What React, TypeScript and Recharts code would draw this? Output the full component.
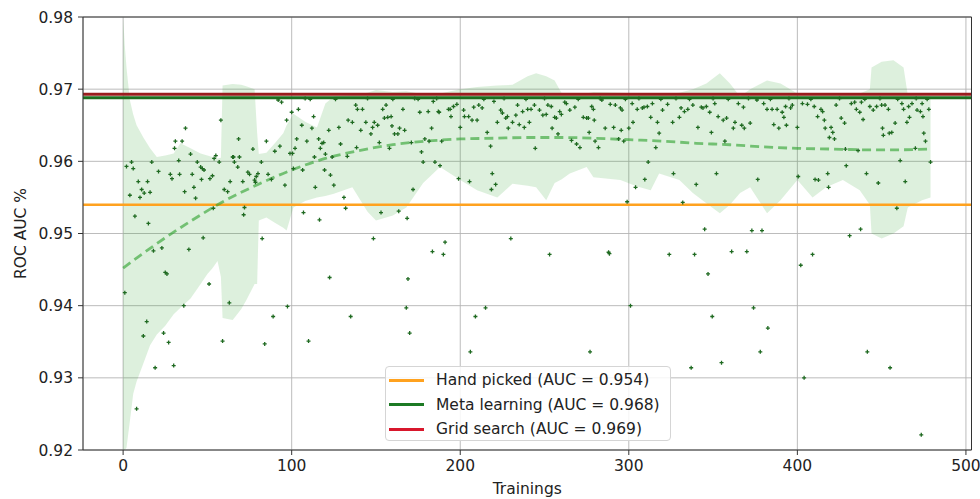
import {
  Area,
  CartesianGrid,
  ComposedChart,
  Line,
  ReferenceLine,
  Scatter,
  XAxis,
  YAxis,
} from 'recharts'

const xTicks = [0, 100, 200, 300, 400, 500]
const yTicks = [0.92, 0.93, 0.94, 0.95, 0.96, 0.97, 0.98]

// baselines: hand picked, meta learning, grid search
const baselineNames = ['Hand picked (AUC = 0.954)', 'Meta learning (AUC = 0.968)', 'Grid search (AUC = 0.969)']
const baselineLevels = [0.954, 0.9688, 0.9693]
const baselineColors = ['#ffa21f', '#1c7a24', '#d8172c']

// dashed trend of the meta learning runs
const trendX = [0, 20, 40, 60, 80, 100, 120, 140, 160, 180, 200, 220, 240, 260, 280, 300, 320, 340, 360, 380, 400, 420, 440, 460, 479]
const trendY = [0.9452, 0.9486, 0.9517, 0.9545, 0.9568, 0.9588, 0.9604, 0.9615, 0.9623, 0.9628, 0.9631, 0.9632, 0.9633, 0.9633, 0.9632, 0.963, 0.9628, 0.9625, 0.9623, 0.962, 0.9618, 0.9617, 0.9616, 0.9616, 0.9617]

// shaded spread around the runs
const bandX = [0, 1, 2, 4, 6, 8, 12, 16, 20, 25, 30, 34, 40, 46, 50, 53, 56, 58, 59, 65, 70, 73, 78, 79.5, 80.5, 85, 90, 95, 97, 101, 108, 115, 120, 125, 136, 145, 150, 160, 168, 178, 188, 200, 210, 222, 231, 240, 245, 251, 256, 260, 265, 275, 279, 295, 305, 313, 318, 330, 338, 346, 354, 360, 366, 372, 382, 390, 400, 409, 417, 427, 437, 443, 444, 450, 457, 463, 465.5, 474, 479]
const bandLow = [0.92, 0.92, 0.9203, 0.924, 0.9278, 0.9295, 0.932, 0.9345, 0.936, 0.9372, 0.9388, 0.9397, 0.941, 0.943, 0.9444, 0.9452, 0.9462, 0.944, 0.9383, 0.938, 0.9395, 0.9407, 0.943, 0.943, 0.9518, 0.9522, 0.9515, 0.9508, 0.9504, 0.9536, 0.9545, 0.955, 0.9552, 0.9555, 0.9564, 0.953, 0.9518, 0.9525, 0.9536, 0.957, 0.9592, 0.9574, 0.956, 0.955, 0.9569, 0.9566, 0.9564, 0.9546, 0.957, 0.9575, 0.9583, 0.9592, 0.9578, 0.9574, 0.9565, 0.956, 0.9583, 0.9574, 0.9556, 0.9542, 0.9528, 0.954, 0.9556, 0.9564, 0.9528, 0.9546, 0.9574, 0.955, 0.9564, 0.9574, 0.956, 0.954, 0.95, 0.9493, 0.95, 0.951, 0.9536, 0.9546, 0.955]
const bandHigh = [0.98, 0.976, 0.973, 0.9685, 0.9665, 0.965, 0.9633, 0.9618, 0.9606, 0.9608, 0.9611, 0.9625, 0.9618, 0.9611, 0.9608, 0.9606, 0.9604, 0.9605, 0.9705, 0.9707, 0.9706, 0.9704, 0.97, 0.964, 0.961, 0.9612, 0.9625, 0.9639, 0.965, 0.9666, 0.9655, 0.9647, 0.968, 0.969, 0.9692, 0.9695, 0.9699, 0.9696, 0.9697, 0.9693, 0.9694, 0.97, 0.9703, 0.9705, 0.9706, 0.9718, 0.9722, 0.9718, 0.9712, 0.9695, 0.9693, 0.9694, 0.9696, 0.9695, 0.9694, 0.9692, 0.9693, 0.9695, 0.97, 0.9708, 0.9722, 0.9708, 0.969, 0.97, 0.9712, 0.9708, 0.9694, 0.9693, 0.9692, 0.9693, 0.9694, 0.97, 0.973, 0.9738, 0.974, 0.973, 0.9692, 0.9691, 0.969]

// individual trainings: [training, ROC AUC]
const trainingRuns: [number, number][] = [
  [1, 0.9418], [2, 0.9593], [4, 0.9553], [5, 0.9599], [6, 0.959], [7, 0.9524], [8, 0.9257], [9, 0.9572], [10, 0.955],
  [11, 0.9561], [12, 0.9358], [12.5, 0.9556], [14, 0.9378], [14.5, 0.9572], [15, 0.9514], [16, 0.9557], [17, 0.9599],
  [18, 0.9476], [19, 0.9314], [21, 0.9586], [23, 0.948], [24, 0.9362], [25, 0.9446], [26, 0.9444], [27, 0.9349],
  [28, 0.9582], [29, 0.9576], [30, 0.9317], [30.5, 0.9618], [31, 0.9628], [33, 0.9601], [33.5, 0.9582], [35, 0.9628],
  [36, 0.94], [36.5, 0.9558], [37, 0.9646], [39, 0.9478], [40, 0.961], [41, 0.9582], [42, 0.9564], [43, 0.9549],
  [44, 0.9599], [46, 0.9592], [46.5, 0.9575], [47, 0.959], [47.5, 0.9494], [48, 0.9588], [51, 0.943], [51.5, 0.9576],
  [53, 0.958], [53.5, 0.9535], [54, 0.9604], [55, 0.9608], [57, 0.9599], [58, 0.9657], [59, 0.9351], [60, 0.9561],
  [62, 0.9558], [63, 0.9404], [63.5, 0.9572], [65, 0.9606], [65.5, 0.9606], [66, 0.9599], [68, 0.9592], [68.5, 0.9631],
  [69, 0.9606], [71, 0.9572], [71.5, 0.9526], [72, 0.9536], [74, 0.9585], [75, 0.9582], [77, 0.9617], [78, 0.9574],
  [78.5, 0.9571], [79, 0.9579], [80, 0.9583], [82, 0.9599], [82.5, 0.9493], [84, 0.9347], [85, 0.9628], [86, 0.9582],
  [88, 0.9575], [89, 0.9385], [90, 0.9614], [92, 0.9685], [93, 0.9621], [94, 0.9682], [96, 0.9567], [97, 0.9657],
  [97.5, 0.9399], [99, 0.9611], [100, 0.9668], [100.5, 0.9611], [101, 0.959], [102, 0.9618], [103, 0.9631], [104, 0.9672],
  [106, 0.965], [106.5, 0.9588], [107, 0.9529], [108, 0.9687], [109, 0.9628], [110, 0.9351], [111, 0.9686], [112, 0.9646],
  [113, 0.9662], [113.5, 0.9606], [114, 0.9564], [116, 0.9631], [116.5, 0.9519], [117, 0.9618], [118, 0.9625],
  [119, 0.9626], [119.5, 0.9588], [120, 0.961], [122, 0.9643], [122.5, 0.9439], [123, 0.9581], [124, 0.9606],
  [125, 0.9567], [126, 0.9686], [128, 0.9647], [129, 0.9624], [131, 0.955], [132, 0.9535], [133, 0.9607], [133.5, 0.9657],
  [135, 0.9385], [136, 0.9654], [138, 0.9678], [138.5, 0.9619], [139, 0.9672], [141, 0.9643], [142, 0.9672], [144, 0.9654],
  [145, 0.9687], [147, 0.9638], [148, 0.9647], [148.5, 0.9493], [149, 0.9654], [151, 0.965], [152, 0.9626], [153, 0.9529],
  [154, 0.9672], [155, 0.966], [156, 0.9678], [157, 0.9661], [158, 0.9618], [159, 0.9662], [159.5, 0.9649], [160, 0.9686],
  [161, 0.9638], [163, 0.9638], [163.5, 0.9531], [164, 0.9646], [166, 0.9672], [167, 0.9643], [168, 0.9397],
  [168.5, 0.9521], [169, 0.9437], [170, 0.9362], [171, 0.9626], [172, 0.9561], [173, 0.9687], [175, 0.9686], [176, 0.9668],
  [177, 0.9613], [178, 0.9599], [179, 0.9631], [181, 0.9669], [181.5, 0.9628], [183, 0.9646], [183.5, 0.9475], [184, 0.9683],
  [185, 0.9599], [186, 0.9687], [187, 0.9669], [187.5, 0.9668], [188, 0.9594], [189, 0.9628], [190, 0.9471], [191, 0.9488],
  [193, 0.9672], [194, 0.9672], [194.5, 0.9662], [196, 0.9676], [198, 0.9679], [199, 0.9576], [200, 0.9647], [202, 0.9671],
  [202.5, 0.9662], [205, 0.9662], [205.5, 0.9572], [206, 0.9336], [207, 0.9657], [208, 0.9675], [209, 0.9385], [210, 0.9657],
  [211, 0.9678], [213, 0.9674], [214, 0.9686], [215, 0.9397], [216, 0.964], [218, 0.9621], [218.5, 0.9561], [219, 0.9583],
  [220, 0.9683], [221, 0.9568], [222, 0.9654], [224, 0.9671], [225, 0.9667], [226, 0.9687], [227, 0.966], [228, 0.9662],
  [228.5, 0.9646], [230, 0.9493], [231, 0.9654], [233, 0.9664], [234, 0.9678], [235, 0.9651], [237, 0.9669], [238, 0.9647],
  [239, 0.9686], [240, 0.9672], [241, 0.9654], [242, 0.9672], [244, 0.9678], [244.5, 0.9618], [247, 0.9671], [249, 0.9664],
  [250, 0.9687], [251, 0.9665], [252, 0.9678], [253, 0.9471], [254, 0.9676], [254.5, 0.9646], [256, 0.9661], [257, 0.966],
  [258, 0.9638], [259, 0.9669], [260, 0.9665], [262, 0.9682], [263, 0.968], [265, 0.9671], [266, 0.9629], [268, 0.9675],
  [269, 0.9624], [270, 0.9686], [271, 0.9619], [273, 0.9661], [275, 0.966], [276, 0.966], [276.5, 0.964], [277, 0.9336],
  [278, 0.9676], [279, 0.9672], [279.5, 0.9657], [280, 0.9628], [282, 0.9619], [283, 0.9687], [284, 0.9685], [286, 0.9646],
  [288, 0.9474], [288.5, 0.9472], [289, 0.9679], [291, 0.9647], [292, 0.9678], [294, 0.9631], [295, 0.9674], [295.5, 0.9643],
  [296, 0.9671], [297, 0.9628], [298, 0.9686], [299, 0.9544], [300, 0.9646], [301, 0.94], [302, 0.968], [302.5, 0.9654],
  [304, 0.9564], [305, 0.9672], [306, 0.9687], [308, 0.9674], [309, 0.9675], [309.5, 0.9575], [311, 0.9676], [311.5, 0.9599],
  [313, 0.9661], [314, 0.968], [316, 0.9619], [317, 0.9654], [318, 0.9639], [319, 0.9686], [320, 0.9671], [323, 0.9679],
  [324, 0.9471], [326, 0.9654], [326.5, 0.9583], [328, 0.9687], [330, 0.9661], [331, 0.9674], [332, 0.9543], [333, 0.9669],
  [335, 0.9672], [336, 0.9686], [337, 0.9314], [338, 0.9678], [339, 0.9471], [340, 0.9568], [341, 0.9647], [343, 0.9675],
  [344, 0.9674], [345, 0.9506], [346, 0.9676], [347, 0.9444], [348, 0.9668], [349, 0.964], [349.5, 0.9385], [350, 0.9687],
  [351, 0.968], [352, 0.9583], [353, 0.9662], [355, 0.9321], [356, 0.9657], [357, 0.9628], [358, 0.966], [359, 0.9686],
  [361, 0.9475], [362, 0.9646], [363, 0.9654], [365, 0.968], [367, 0.965], [368, 0.9675], [368.5, 0.9646], [370, 0.9475],
  [371, 0.9687], [372, 0.9653], [373, 0.9504], [374, 0.9397], [376, 0.9685], [376.5, 0.9575], [378, 0.9336], [379, 0.9504],
  [380, 0.968], [382, 0.9672], [382.5, 0.9369], [384, 0.9686], [385, 0.9672], [386, 0.9651], [388, 0.9672], [389, 0.9646],
  [391, 0.9668], [392, 0.9661], [393, 0.9676], [393.5, 0.965], [395, 0.9687], [396, 0.9674], [397, 0.9678], [400, 0.9647],
  [400.5, 0.9579], [402, 0.9456], [403, 0.968], [404, 0.93], [406, 0.9679], [408, 0.9686], [409, 0.9471], [410, 0.9676],
  [410.5, 0.9575], [412, 0.9662], [412.5, 0.9574], [414, 0.9672], [415, 0.9669], [416, 0.9657], [416.5, 0.9646],
  [418, 0.9583], [418.5, 0.9564], [419, 0.9633], [420, 0.9647], [421, 0.964], [422, 0.9631], [423, 0.9678], [425, 0.9687],
  [426, 0.966], [428, 0.9653], [428.5, 0.9617], [429, 0.9594], [431, 0.9497], [432, 0.968], [434, 0.9682], [435, 0.9672],
  [436, 0.9615], [437, 0.9668], [437.5, 0.9506], [438, 0.9682], [439, 0.9658], [440, 0.9686], [441, 0.9583], [441.5, 0.9336],
  [443, 0.9676], [445, 0.9671], [447, 0.9676], [448, 0.957], [449, 0.9687], [450, 0.9678], [450.5, 0.9646], [451, 0.9636],
  [452, 0.9678], [454, 0.9672], [454.5, 0.9639], [455, 0.9314], [456, 0.964], [458, 0.9653], [459, 0.9535], [459.5, 0.9686],
  [461, 0.9601], [462, 0.968], [463, 0.9672], [464, 0.9572], [465, 0.9654], [466, 0.9676], [466.5, 0.9661], [468, 0.968],
  [470, 0.9618], [470.5, 0.9687], [471, 0.9671], [473, 0.9669], [473.5, 0.9221], [474, 0.968], [474.5, 0.9662],
  [475, 0.9639], [476, 0.9628], [477, 0.9686], [478, 0.9672], [479, 0.9599],
]

const bandRows = bandX.map((x, i) => ({ x, band: [bandLow[i], bandHigh[i]] }))
const trendRows = trendX.map((x, i) => ({ x, trend: trendY[i] }))
const runRows = trainingRuns.map(([x, y]) => ({ x, y }))

const FONT = '"DejaVu Sans", Verdana, sans-serif'
const TEXT = '#222'

const Plus = (props: any) => {
  const { cx, cy } = props
  if (cx == null || cy == null) return null
  return <path d={`M${cx - 2},${cy}h4M${cx},${cy - 2}v4`} stroke="#1f6a21" strokeWidth={1.3} />
}

const LegendBox = () => (
  <div
    style={{
      position: 'absolute',
      left: 385,
      top: 366,
      width: 286,
      height: 75,
      border: '1px solid #d5d5d5',
      borderRadius: 4,
      background: 'rgba(255,255,255,0.85)',
      boxSizing: 'border-box',
      fontFamily: FONT,
      fontSize: 15.5,
      color: TEXT,
    }}
  >
    {baselineNames.map((name, i) => (
      <div key={name} style={{ position: 'absolute', left: 3, top: 2 + i * 24.5, height: 22, display: 'flex', alignItems: 'center' }}>
        <span style={{ display: 'inline-block', width: 35, height: 3, background: baselineColors[i], marginRight: 12 }} />
        <span style={{ whiteSpace: 'nowrap' }}>{name}</span>
      </div>
    ))}
  </div>
)

export default function App() {
  return (
    <div style={{ position: 'absolute', left: 0, top: 0, width: 980, height: 499, background: '#fff' }}>
      <ComposedChart width={980} height={499} data={bandRows} margin={{ top: 17, right: 8.5, bottom: 0, left: 5 }}>
        <CartesianGrid stroke="#b4b4b4" strokeWidth={0.9} />
        <XAxis
          dataKey="x"
          type="number"
          domain={[-23.8, 503.3]}
          ticks={xTicks}
          allowDataOverflow
          height={49}
          tickSize={5}
          tickMargin={5}
          stroke="#333"
          tick={{ fill: TEXT, fontSize: 15.5, fontFamily: FONT }}
          label={{ value: 'Trainings', position: 'insideBottom', offset: 5, fill: TEXT, fontSize: 15.5, fontFamily: FONT }}
        />
        <YAxis
          type="number"
          domain={[0.92, 0.98]}
          ticks={yTicks}
          allowDataOverflow
          width={78}
          tickSize={5}
          tickMargin={5}
          stroke="#333"
          tickFormatter={(v: number) => v.toFixed(2)}
          tick={{ fill: TEXT, fontSize: 15.5, fontFamily: FONT }}
          label={{
            value: 'ROC AUC %',
            angle: -90,
            position: 'insideLeft',
            offset: 15,
            fill: TEXT,
            fontSize: 15.5,
            fontFamily: FONT,
            style: { textAnchor: 'middle' },
          }}
        />
        <Area
          dataKey="band"
          type="linear"
          stroke="none"
          fill="#2ca02c"
          fillOpacity={0.16}
          isAnimationActive={false}
        />
        <ReferenceLine y={baselineLevels[0]} stroke="#ffa21f" strokeWidth={2.5} />
        <ReferenceLine y={baselineLevels[1]} stroke="#1c6f1f" strokeWidth={3} />
        <ReferenceLine y={baselineLevels[2]} stroke="#9a1d1d" strokeWidth={3} />
        <Scatter data={runRows} dataKey="y" shape={<Plus />} isAnimationActive={false} />
        <Line
          data={trendRows}
          dataKey="trend"
          type="monotone"
          stroke="#2ca02c"
          strokeOpacity={0.6}
          strokeWidth={2.8}
          strokeDasharray="9 5"
          dot={false}
          isAnimationActive={false}
        />
        <ReferenceLine y={0.98} stroke="#333" strokeWidth={1} />
        <ReferenceLine x={503.3} stroke="#333" strokeWidth={1} />
      </ComposedChart>
      <LegendBox />
    </div>
  )
}
